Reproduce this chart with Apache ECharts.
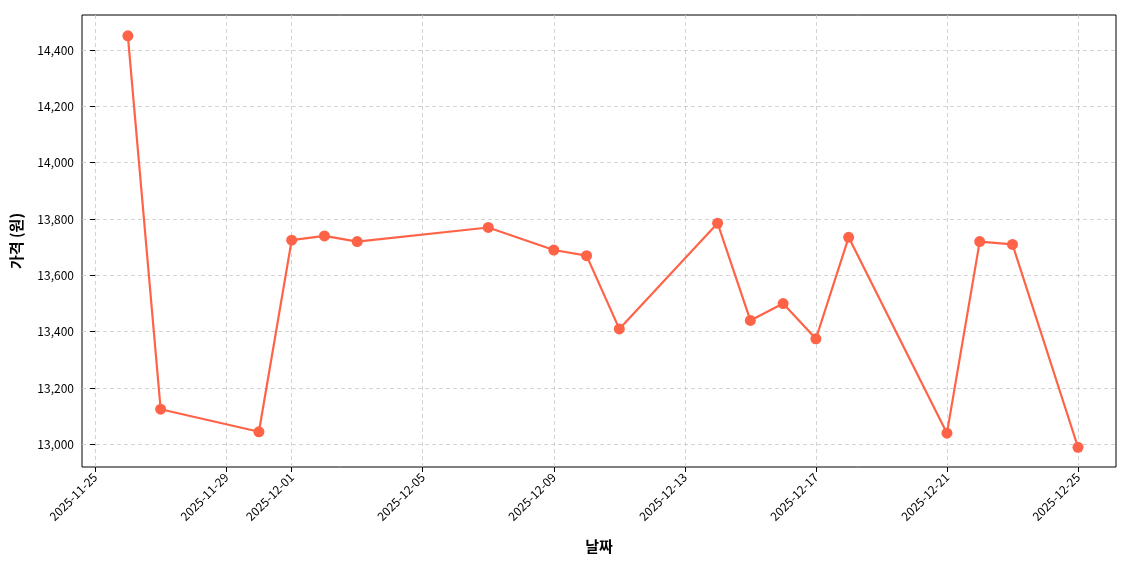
<!DOCTYPE html>
<html><head><meta charset="utf-8">
<script src="https://cdn.jsdelivr.net/npm/echarts@6/dist/echarts.min.js"></script>
<style>html,body{margin:0;padding:0;background:#fff}#c{width:1140px;height:570px}</style>
</head><body><div id="c"></div>
<script>
const dates = ['2025-11-26','2025-11-27','2025-11-30','2025-12-01','2025-12-02','2025-12-03','2025-12-07','2025-12-09','2025-12-10','2025-12-11','2025-12-14','2025-12-15','2025-12-16','2025-12-17','2025-12-18','2025-12-21','2025-12-22','2025-12-23','2025-12-25'];
const prices = [14450,13125,13045,13725,13740,13720,13770,13690,13670,13410,13785,13440,13500,13375,13735,13040,13720,13710,12990];
const xTicks = ['2025-11-25','2025-11-29','2025-12-01','2025-12-05','2025-12-09','2025-12-13','2025-12-17','2025-12-21','2025-12-25'];
const yTicks = [13000,13200,13400,13600,13800,14000,14200,14400];
const base = Date.UTC(2025,10,25);
const day = s => (Date.parse(s+'T00:00:00Z') - base)/86400000;
const fmt = d => new Date(base + Math.round(d)*86400000).toISOString().slice(0,10);
const xt = xTicks.map(day);
const font = 'Noto Sans CJK KR';
const grid = {show:true, lineStyle:{color:'#c8c8c8', type:[4,3], width:0.8}};
echarts.init(document.getElementById('c')).setOption({
  animation:false,
  textStyle:{fontFamily:font},
  grid:{left:82,right:24,top:15,bottom:103,show:true,borderColor:'#000',borderWidth:1},
  xAxis:{type:'value',min:-0.4,max:31.16,name:'날짜',nameLocation:'middle',nameGap:72,
    nameTextStyle:{fontSize:15,fontWeight:'bold',color:'#000'},
    axisLine:{show:false},
    axisTick:{show:true,customValues:xt,lineStyle:{color:'#000'}},
    axisLabel:{customValues:xt,formatter:v=>fmt(v),rotate:45,color:'#000',fontSize:12,fontFamily:font},
    splitLine:grid},
  yAxis:{type:'value',min:12920,max:14524,name:'가격 (원)',nameLocation:'middle',nameGap:58,
    nameTextStyle:{fontSize:15,fontWeight:'bold',color:'#000'},
    axisLine:{show:false},
    axisTick:{show:true,customValues:yTicks,lineStyle:{color:'#000'}},
    axisLabel:{customValues:yTicks,color:'#000',fontSize:12,fontFamily:font,showMinLabel:true,showMaxLabel:true},
    splitLine:grid},
  series:[{type:'line',data:dates.map((d,i)=>[day(d),prices[i]]),
    itemStyle:{color:'#ff6347'},lineStyle:{color:'#ff6347',width:2.2},
    symbol:'circle',symbolSize:11}]
});
</script></body></html>
